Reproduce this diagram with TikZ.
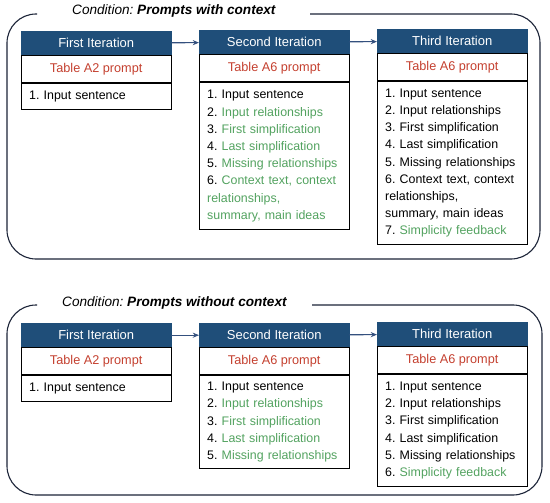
\documentclass[tikz,border=0pt]{standalone}
\usepackage{xcolor}
\usepackage{fontspec}
\setmainfont{Liberation Sans}
\usepackage{tikz}
\usetikzlibrary{arrows.meta, positioning}
\definecolor{hdrblue}{HTML}{1F4E79}
\definecolor{flowblue}{HTML}{34507E}
\definecolor{framenavy}{HTML}{1C2438}
\definecolor{prmred}{HTML}{C4402F}
\definecolor{itmgreen}{HTML}{52A25F}
\frenchspacing
\tikzset{
  % the dark header of an iteration
  hdr/.style   = {fill=hdrblue, draw=hdrblue, text=white, anchor=north west,
                  minimum width=150pt, minimum height=24pt, inner sep=0pt,
                  font=\fontsize{13}{15}\selectfont},
  % the prompt row under a header
  prm/.style   = {draw, line width=0.8pt, text=prmred, minimum width=150pt,
                  minimum height=27pt, inner sep=0pt,
                  font=\fontsize{12.7}{15}\selectfont},
  % the numbered inputs
  itm/.style   = {draw, line width=0.8pt, align=left, text width=134pt,
                  inner xsep=8pt, inner ysep=0pt,
                  font=\fontsize{12.4}{17.2}\selectfont},
  % the rounded frame round one condition
  frame/.style = {line width=1.1pt, draw=framenavy, rounded corners=29pt},
  % the condition title sitting on the frame
  cond/.style  = {anchor=west, inner sep=0pt,
                  font=\fontsize{13.6}{15}\selectfont\itshape},
  % an arrow from one iteration to the next
  flow/.style  = {-{Stealth[length=2.2mm,width=1.8mm]}, line width=1.1pt,
                  flowblue},
}
\newcommand{\gtxt}[1]{{\color{itmgreen}#1}}
\newcommand{\iterbox}[6]{%
  \node[hdr] (#1h) at (#2) {#3};
  \node[prm, below=0pt of #1h] (#1p) {#4};
  \node[itm, minimum height=#5, below=0pt of #1p] (#1i) {#6};
}

\begin{document}
\begin{tikzpicture}[x=1pt, y=-1pt]
  \useasboundingbox (0,0) rectangle (550,503);
  % with context
  \node[cond] (wcond) at (72,11) {Condition: \textbf{Prompts with context}};
  \draw[frame] (310,14) -| (540,259) -| (7,14) -- (37,14);
  \iterbox{wa}{21,31}{First Iteration}{Table A2 prompt}{26pt}{%
    1. Input sentence}
  \iterbox{wb}{199,30}{Second Iteration}{Table A6 prompt}{147pt}{%
    1. Input sentence\\
    2. \gtxt{Input relationships}\\
    3. \gtxt{First simplification}\\
    4. \gtxt{Last simplification}\\
    5. \gtxt{Missing relationships}\\
    6. \gtxt{Context text, context}\\
    \gtxt{relationships,}\\
    \gtxt{summary, main ideas}}
  \iterbox{wc}{377,29}{Third Iteration}{Table A6 prompt}{163pt}{%
    1. Input sentence\\
    2. Input relationships\\
    3. First simplification\\
    4. Last simplification\\
    5. Missing relationships\\
    6. Context text, context\\
    relationships,\\
    summary, main ideas\\
    7. \gtxt{Simplicity feedback}}
  \draw[flow] (wah) -- (wbh);
  \draw[flow] (wbh) -- (wch);
  % without context
  \node[cond] (ncond) at (62,303) {Condition: \textbf{Prompts without context}};
  \draw[frame] (312,305) -| (542,495) -| (7,305) -- (37,305);
  \iterbox{na}{21,323}{First Iteration}{Table A2 prompt}{26pt}{%
    1. Input sentence}
  \iterbox{nb}{199,323}{Second Iteration}{Table A6 prompt}{93pt}{%
    1. Input sentence\\
    2. \gtxt{Input relationships}\\
    3. \gtxt{First simplification}\\
    4. \gtxt{Last simplification}\\
    5. \gtxt{Missing relationships}}
  \iterbox{nc}{377,322}{Third Iteration}{Table A6 prompt}{112pt}{%
    1. Input sentence\\
    2. Input relationships\\
    3. First simplification\\
    4. Last simplification\\
    5. Missing relationships\\
    6. \gtxt{Simplicity feedback}}
  \draw[flow] (nah) -- (nbh);
  \draw[flow] (nbh) -- (nch);
\end{tikzpicture}
\end{document}
